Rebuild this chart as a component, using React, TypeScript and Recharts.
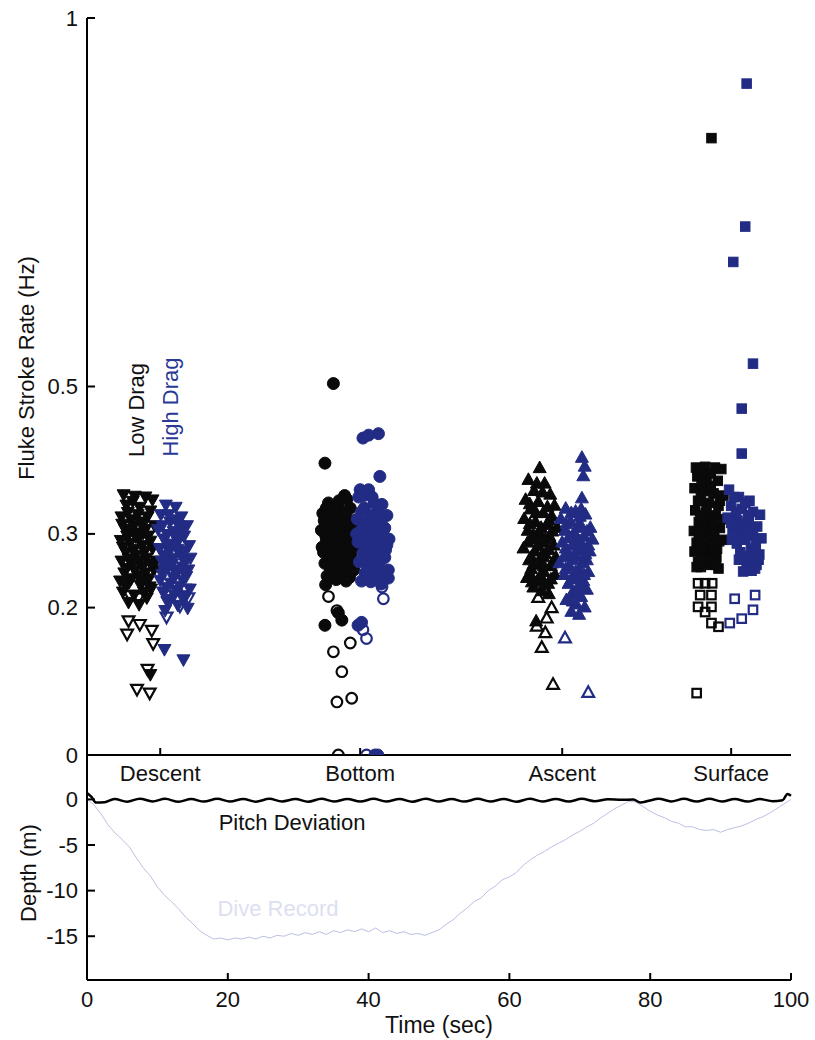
import React from 'react';
import {
  ScatterChart,
  Scatter,
  LineChart,
  Line,
  XAxis,
  YAxis,
} from 'recharts';

const FONT = '"Liberation Sans", Arial, Helvetica, sans-serif';
const BLACK = '#0a0a0a';
const BLUE = '#222c84';

// phase categories along the top axis (time units, shared with bottom plot)
const CAT_NAMES = ['Descent', 'Bottom', 'Ascent', 'Surface'];
const CAT_POS = [10.4, 38.8, 67.5, 91.5];
const RATE_TICKS = [0, 0.2, 0.3, 0.5, 1];
const DEPTH_TICKS = [-15, -10, -5, 0];
const TIME_TICKS = [0, 20, 40, 60, 80, 100];

// fluke stroke rates, [x, Hz]
const DESCENT_LOW = [
  [5.2, 0.352], [6.8, 0.35], [8.3, 0.349], [5.6, 0.338], [7.5, 0.335], [9.0, 0.33], [4.9, 0.322],
  [6.3, 0.318], [8.1, 0.315], [9.6, 0.31], [5.4, 0.305], [7.0, 0.3], [8.7, 0.296], [4.8, 0.29],
  [6.1, 0.286], [7.8, 0.283], [9.3, 0.279], [5.5, 0.274], [6.9, 0.27], [8.4, 0.266], [4.9, 0.262],
  [6.4, 0.258], [7.9, 0.254], [9.5, 0.25], [5.3, 0.246], [7.2, 0.242], [8.8, 0.238], [6.0, 0.233],
  [7.6, 0.229], [9.1, 0.224], [5.1, 0.22], [6.7, 0.216], [8.5, 0.212], [5.9, 0.206], [7.4, 0.203],
  [8.9, 0.227], [9.8, 0.262], [4.7, 0.235], [8.0, 0.3], [6.0, 0.3], [7.3, 0.262], [6.5, 0.343],
  [9.3, 0.345], [9.0, 0.108], [5.8, 0.328], [7.2, 0.325], [8.6, 0.322], [5.0, 0.312], [6.6, 0.309],
  [8.3, 0.305], [5.7, 0.296], [7.4, 0.293], [9.0, 0.289], [5.1, 0.281], [6.7, 0.278], [8.2, 0.275],
  [5.9, 0.265], [7.5, 0.262], [9.1, 0.258], [5.6, 0.252], [6.8, 0.249], [8.3, 0.246], [6.3, 0.238],
  [7.8, 0.236], [5.5, 0.228], [8.1, 0.22], [6.9, 0.295], [7.7, 0.312],
];
const DESCENT_LOW_OPEN = [
  [6.1, 0.215], [7.3, 0.212], [5.9, 0.181], [7.5, 0.176], [9.2, 0.168], [5.7, 0.163], [9.4, 0.15],
  [8.6, 0.115], [7.1, 0.088], [8.9, 0.083],
];
const DESCENT_HIGH = [
  [11.2, 0.338], [12.6, 0.335], [10.5, 0.325], [13.4, 0.322], [11.8, 0.315], [14.2, 0.31],
  [10.1, 0.305], [12.3, 0.302], [13.8, 0.296], [10.9, 0.292], [12.9, 0.288], [14.5, 0.283],
  [10.3, 0.279], [11.7, 0.275], [13.3, 0.271], [14.7, 0.266], [10.6, 0.262], [12.1, 0.258],
  [13.6, 0.254], [11.0, 0.249], [12.7, 0.245], [14.1, 0.241], [10.4, 0.236], [11.9, 0.232],
  [13.2, 0.228], [14.6, 0.224], [10.8, 0.22], [12.4, 0.216], [13.9, 0.212], [11.4, 0.207],
  [12.9, 0.202], [14.3, 0.198], [11.1, 0.195], [12.0, 0.285], [11.3, 0.262], [13.0, 0.31],
  [11.0, 0.142], [13.7, 0.128], [11.6, 0.325], [12.9, 0.318], [10.7, 0.31], [13.5, 0.305],
  [11.4, 0.298], [12.6, 0.294], [14.0, 0.276], [11.5, 0.284], [12.8, 0.278], [10.9, 0.27],
  [12.3, 0.266], [13.8, 0.262], [11.6, 0.254], [13.0, 0.25], [14.4, 0.25], [10.7, 0.244],
  [12.2, 0.24], [13.6, 0.236], [11.3, 0.226], [12.7, 0.222], [13.4, 0.215], [11.9, 0.21],
];
const DESCENT_HIGH_OPEN = [[11.3, 0.186], [13.9, 0.224], [13.2, 0.201], [14.4, 0.212]];

const BOTTOM_LOW = [
  [35.0, 0.504], [33.8, 0.396], [36.6, 0.352], [34.3, 0.342], [35.6, 0.338], [37.4, 0.335],
  [33.5, 0.328], [35.0, 0.325], [36.5, 0.322], [37.9, 0.318], [34.2, 0.315], [35.8, 0.312],
  [37.1, 0.308], [33.3, 0.305], [34.8, 0.302], [36.3, 0.3], [37.7, 0.297], [34.0, 0.293],
  [35.4, 0.29], [36.9, 0.287], [38.2, 0.284], [33.4, 0.282], [34.9, 0.279], [36.2, 0.276],
  [37.5, 0.273], [34.4, 0.27], [35.8, 0.267], [37.1, 0.264], [33.8, 0.26], [35.2, 0.257],
  [36.6, 0.254], [37.9, 0.251], [34.6, 0.248], [36.0, 0.244], [37.3, 0.241], [35.4, 0.238],
  [36.8, 0.236], [35.9, 0.296], [35.2, 0.31], [36.2, 0.285], [34.4, 0.326], [33.9, 0.231],
  [33.8, 0.176], [36.2, 0.183], [35.7, 0.193], [34.0, 0.335], [35.3, 0.333], [36.8, 0.33],
  [33.7, 0.318], [35.1, 0.317], [36.5, 0.313], [37.6, 0.31], [33.9, 0.298], [35.6, 0.3],
  [37.0, 0.296], [34.5, 0.288], [36.0, 0.29], [37.4, 0.285], [33.6, 0.275], [35.1, 0.272],
  [36.7, 0.27], [37.8, 0.262], [34.3, 0.258], [35.7, 0.255], [37.2, 0.25], [34.1, 0.243],
  [35.5, 0.246], [36.4, 0.265], [34.6, 0.308], [36.9, 0.347], [35.8, 0.345],
];
const BOTTOM_LOW_OPEN = [
  [34.3, 0.215], [35.5, 0.196], [37.4, 0.152], [35.0, 0.14], [36.2, 0.113], [35.5, 0.072],
  [37.6, 0.077], [35.7, 0.0],
];
const BOTTOM_HIGH = [
  [39.2, 0.43], [40.0, 0.434], [41.4, 0.436], [41.6, 0.378], [38.8, 0.36], [40.0, 0.36],
  [40.8, 0.342], [38.6, 0.35], [39.4, 0.335], [41.3, 0.33], [42.6, 0.325], [38.4, 0.32],
  [39.9, 0.316], [41.0, 0.312], [42.3, 0.308], [38.9, 0.304], [40.3, 0.3], [41.7, 0.297],
  [42.9, 0.293], [38.5, 0.289], [39.8, 0.285], [41.1, 0.282], [42.4, 0.278], [39.2, 0.274],
  [40.6, 0.27], [41.9, 0.266], [38.7, 0.262], [40.1, 0.258], [41.5, 0.255], [42.8, 0.251],
  [39.5, 0.247], [40.9, 0.243], [42.2, 0.239], [39.0, 0.236], [41.8, 0.232], [42.0, 0.242],
  [40.4, 0.29], [38.3, 0.3], [38.5, 0.176], [39.0, 0.18], [40.9, 0.0], [41.3, 0.0],
  [39.3, 0.352], [40.5, 0.35], [41.9, 0.34], [39.0, 0.33], [40.5, 0.325], [41.8, 0.32],
  [39.3, 0.31], [40.8, 0.305], [42.0, 0.302], [39.4, 0.295], [41.2, 0.29], [42.6, 0.285],
  [39.6, 0.278], [41.0, 0.272], [42.3, 0.268], [39.8, 0.262], [41.2, 0.26], [39.9, 0.25],
  [41.2, 0.245], [40.3, 0.235], [42.8, 0.24],
];
const BOTTOM_HIGH_OPEN = [[41.9, 0.228], [42.1, 0.212], [39.2, 0.17], [39.7, 0.158], [39.7, 0.0]];

const ASCENT_LOW = [
  [64.3, 0.391], [62.7, 0.375], [65.0, 0.37], [63.5, 0.36], [65.8, 0.355], [62.3, 0.348],
  [64.1, 0.345], [66.4, 0.34], [63.0, 0.335], [64.8, 0.33], [66.0, 0.326], [62.1, 0.322],
  [63.7, 0.318], [65.3, 0.314], [66.8, 0.31], [62.6, 0.306], [64.2, 0.302], [65.7, 0.298],
  [63.2, 0.294], [64.7, 0.29], [66.3, 0.286], [62.0, 0.282], [63.6, 0.278], [65.1, 0.274],
  [66.6, 0.27], [62.8, 0.266], [64.4, 0.262], [65.9, 0.258], [63.1, 0.254], [64.9, 0.25],
  [66.5, 0.246], [62.5, 0.242], [64.0, 0.238], [65.5, 0.234], [63.4, 0.229], [64.6, 0.224],
  [65.6, 0.22], [63.8, 0.183], [64.4, 0.3], [64.8, 0.27], [63.9, 0.37], [64.7, 0.358],
  [62.9, 0.342], [65.4, 0.338], [63.8, 0.33], [65.7, 0.32], [62.9, 0.315], [64.5, 0.31],
  [66.1, 0.305], [63.4, 0.3], [65.1, 0.295], [62.6, 0.29], [64.1, 0.285], [65.6, 0.28],
  [63.1, 0.27], [64.6, 0.272], [66.1, 0.262], [63.4, 0.26], [64.9, 0.258], [62.9, 0.248],
  [64.4, 0.245], [65.9, 0.24], [63.2, 0.236], [64.9, 0.232],
];
const ASCENT_LOW_OPEN = [
  [64.1, 0.215], [66.0, 0.201], [65.3, 0.187], [63.9, 0.176], [65.1, 0.167], [64.6, 0.147],
  [66.2, 0.097],
];
const ASCENT_HIGH = [
  [70.3, 0.405], [70.7, 0.393], [70.5, 0.38], [70.3, 0.35], [68.0, 0.336], [69.4, 0.332],
  [70.8, 0.328], [67.3, 0.322], [68.7, 0.318], [70.1, 0.314], [71.5, 0.31], [67.9, 0.306],
  [69.3, 0.302], [70.6, 0.298], [71.8, 0.294], [67.5, 0.29], [68.9, 0.286], [70.3, 0.282],
  [71.4, 0.278], [68.2, 0.274], [69.6, 0.27], [71.0, 0.266], [67.1, 0.262], [68.5, 0.258],
  [69.9, 0.254], [71.2, 0.25], [67.8, 0.246], [69.2, 0.242], [70.5, 0.238], [68.4, 0.234],
  [69.8, 0.23], [71.0, 0.226], [68.9, 0.221], [70.2, 0.216], [68.1, 0.212], [69.5, 0.206],
  [70.7, 0.202], [68.8, 0.196], [69.9, 0.192], [69.0, 0.296], [70.0, 0.325], [68.8, 0.33],
  [70.2, 0.335], [68.1, 0.315], [69.6, 0.31], [71.0, 0.305], [68.5, 0.298], [70.0, 0.292],
  [71.2, 0.286], [68.0, 0.282], [69.6, 0.28], [70.8, 0.274], [67.7, 0.27], [69.0, 0.266],
  [70.4, 0.262], [68.0, 0.254], [69.4, 0.25], [70.6, 0.246], [68.8, 0.24], [70.0, 0.244],
  [69.3, 0.222], [70.4, 0.228], [69.0, 0.21],
];
const ASCENT_HIGH_OPEN = [[67.9, 0.16], [71.2, 0.086]];

const SURFACE_LOW = [
  [88.7, 0.837], [86.5, 0.39], [87.8, 0.391], [89.2, 0.39], [90.1, 0.388], [86.7, 0.378],
  [88.0, 0.375], [89.6, 0.372], [86.3, 0.362], [87.6, 0.358], [89.0, 0.355], [90.4, 0.352],
  [86.8, 0.345], [88.3, 0.342], [89.7, 0.338], [86.4, 0.332], [87.9, 0.328], [89.3, 0.325],
  [90.6, 0.32], [86.9, 0.316], [88.5, 0.312], [89.9, 0.308], [86.2, 0.304], [87.7, 0.3],
  [89.1, 0.296], [90.5, 0.292], [86.6, 0.288], [88.1, 0.284], [89.5, 0.28], [86.3, 0.276],
  [87.9, 0.272], [89.4, 0.268], [86.8, 0.262], [88.4, 0.258], [89.7, 0.253], [87.2, 0.255],
  [88.8, 0.3], [88.0, 0.32], [87.2, 0.385], [88.6, 0.382], [87.3, 0.368], [88.6, 0.365],
  [87.2, 0.35], [88.0, 0.338], [89.9, 0.345], [87.1, 0.325], [88.8, 0.322], [87.5, 0.31],
  [89.2, 0.315], [86.9, 0.295], [88.4, 0.292], [89.8, 0.29], [87.4, 0.28], [88.9, 0.276],
  [87.2, 0.268], [88.6, 0.265], [89.3, 0.258], [86.6, 0.255],
];
const SURFACE_LOW_OPEN = [
  [86.8, 0.233], [87.8, 0.233], [88.8, 0.233], [87.1, 0.217], [88.7, 0.217], [86.8, 0.201],
  [88.7, 0.201], [87.8, 0.194], [88.7, 0.179], [89.7, 0.174], [86.6, 0.084],
];
const SURFACE_HIGH = [
  [93.7, 0.911], [93.5, 0.717], [91.8, 0.669], [94.6, 0.531], [93.0, 0.47], [93.0, 0.409],
  [91.2, 0.36], [92.6, 0.35], [94.1, 0.345], [91.5, 0.338], [93.0, 0.334], [94.6, 0.33],
  [95.6, 0.326], [91.0, 0.322], [92.4, 0.318], [93.8, 0.314], [95.2, 0.31], [91.7, 0.306],
  [93.1, 0.302], [94.5, 0.298], [95.8, 0.294], [92.3, 0.287], [94.3, 0.28], [95.5, 0.272],
  [91.6, 0.292], [93.7, 0.262], [95.1, 0.258], [93.2, 0.249], [94.9, 0.253], [92.2, 0.31],
  [94.0, 0.32], [91.9, 0.35], [93.5, 0.342], [92.2, 0.33], [93.9, 0.325], [91.5, 0.315],
  [93.0, 0.31], [94.6, 0.306], [92.0, 0.298], [93.5, 0.292], [95.0, 0.285], [92.8, 0.275],
  [94.0, 0.27], [95.4, 0.265], [92.6, 0.265], [94.4, 0.25], [93.8, 0.3],
];
const SURFACE_HIGH_OPEN = [[92.0, 0.212], [94.9, 0.217], [94.6, 0.197], [93.0, 0.185], [91.3, 0.179]];

// dive record (depth in m) and pitch deviation trace
const DIVE_TIME = [
  0, 1, 2, 3, 4, 5, 6, 7, 8, 9, 10, 11, 12, 13, 14, 15, 16, 17, 18, 19, 20, 21, 22, 23, 24, 25,
  26, 27, 28, 29, 30, 31, 32, 33, 34, 35, 36, 37, 38, 39, 40, 41, 42, 43, 44, 45, 46, 47, 48, 49,
  50, 51, 52, 53, 54, 55, 56, 57, 58, 59, 60, 61, 62, 63, 64, 65, 66, 67, 68, 69, 70, 71, 72, 73,
  74, 75, 76, 77, 78, 79, 80, 81, 82, 83, 84, 85, 86, 87, 88, 89, 90, 91, 92, 93, 94, 95, 96, 97,
  98, 99, 100,
];
const DIVE_DEPTH = [
  0, -0.6, -1.6, -2.8, -3.7, -4.4, -5.2, -6.4, -7.5, -8.4, -9.6, -10.5, -11.2, -12.0, -12.9,
  -13.6, -14.4, -14.9, -15.3, -15.2, -15.4, -15.2, -15.3, -15.1, -15.3, -15.0, -15.2, -14.9,
  -15.0, -14.7, -14.9, -14.6, -14.8, -14.5, -14.8, -14.4, -14.6, -14.3, -14.5, -14.2, -14.5,
  -14.1, -14.6, -14.4, -14.7, -14.5, -14.8, -14.7, -14.9, -14.6, -14.3, -13.7, -13.2, -12.5,
  -11.9, -11.2, -10.8, -10.0, -9.5, -8.8, -8.5, -8.0, -7.2, -6.6, -6.1, -5.7, -5.2, -4.8, -4.4,
  -3.9, -3.5, -3.0, -2.6, -2.0, -1.5, -1.0, -0.6, -0.2, -0.3, -0.8, -1.3, -1.7, -2.0, -2.4,
  -2.6, -3.0, -3.0, -3.3, -3.4, -3.3, -3.6, -3.3, -3.1, -2.9, -2.6, -2.2, -1.9, -1.5, -1.0,
  -0.5, 0,
];
const PITCH_TIME = [
  0, 0.6, 1.3, 2.5, 3.9, 5.7, 7.5, 9.3, 11.1, 13.0, 14.8, 16.6, 18.5, 20.3, 22.2, 24.0, 25.9,
  27.7, 29.6, 31.4, 33.3, 35.1, 37.0, 38.8, 40.7, 42.5, 44.4, 46.2, 48.1, 49.9, 51.8, 53.6, 55.5,
  57.3, 59.2, 61.0, 62.9, 64.7, 66.6, 68.4, 70.3, 72.1, 74.0, 76.0, 77.6, 78.6, 79.8, 81.2, 83.0,
  84.8, 86.6, 88.4, 90.2, 92.0, 93.8, 95.6, 97.4, 98.8, 99.5, 100,
];
const PITCH_DEV = [
  0.7, 0.3, -0.35, -0.3, 0.05, -0.25, 0.08, -0.22, 0.06, -0.26, 0.04, -0.24, 0.07, -0.23, 0.05,
  -0.25, 0.06, -0.22, 0.04, -0.26, 0.07, -0.23, 0.05, -0.24, 0.06, -0.22, 0.05, -0.25, 0.07,
  -0.23, 0.04, -0.24, 0.06, -0.22, 0.05, -0.25, 0.07, -0.23, 0.05, -0.24, 0.06, -0.2, 0.02,
  -0.05, 0.0, -0.35, -0.15, 0.08, -0.22, 0.07, -0.24, 0.06, -0.22, 0.05, -0.24, 0.04, -0.2,
  -0.1, 0.6, 0.4,
];

const toPts = (arr: number[][]) => arr.map(([x, y]) => ({ x, y }));
const diveData = DIVE_TIME.map((t, i) => ({ t, v: DIVE_DEPTH[i] }));
const pitchData = PITCH_TIME.map((t, i) => ({ t, v: PITCH_DEV[i] }));

type Kind = 'down' | 'circle' | 'up' | 'square';

const marker = (kind: Kind, color: string, open: boolean) => (props: any) => {
  const { cx, cy } = props;
  const fill = open ? 'none' : color;
  const sw = open ? 2.2 : 1;
  if (kind === 'circle') {
    return <circle cx={cx} cy={cy} r={open ? 5.3 : 6} fill={fill} stroke={color} strokeWidth={sw} />;
  }
  if (kind === 'square') {
    const s = open ? 8.5 : 9.5;
    return <rect x={cx - s / 2} y={cy - s / 2} width={s} height={s} fill={fill} stroke={color} strokeWidth={sw} />;
  }
  const h = open ? 5.3 : 5.8;
  const w = open ? 5.9 : 6.5;
  const pts =
    kind === 'down'
      ? `${cx - w},${cy - h} ${cx + w},${cy - h} ${cx},${cy + h}`
      : `${cx - w},${cy + h} ${cx + w},${cy + h} ${cx},${cy - h}`;
  return <polygon points={pts} fill={fill} stroke={color} strokeWidth={sw} strokeLinejoin="miter" />;
};

const SERIES: { data: number[][]; kind: Kind; color: string; open: boolean }[] = [
  { data: DESCENT_LOW, kind: 'down', color: BLACK, open: false },
  { data: DESCENT_LOW_OPEN, kind: 'down', color: BLACK, open: true },
  { data: DESCENT_HIGH, kind: 'down', color: BLUE, open: false },
  { data: DESCENT_HIGH_OPEN, kind: 'down', color: BLUE, open: true },
  { data: BOTTOM_LOW, kind: 'circle', color: BLACK, open: false },
  { data: BOTTOM_LOW_OPEN, kind: 'circle', color: BLACK, open: true },
  { data: BOTTOM_HIGH, kind: 'circle', color: BLUE, open: false },
  { data: BOTTOM_HIGH_OPEN, kind: 'circle', color: BLUE, open: true },
  { data: ASCENT_LOW, kind: 'up', color: BLACK, open: false },
  { data: ASCENT_LOW_OPEN, kind: 'up', color: BLACK, open: true },
  { data: ASCENT_HIGH, kind: 'up', color: BLUE, open: false },
  { data: ASCENT_HIGH_OPEN, kind: 'up', color: BLUE, open: true },
  { data: SURFACE_LOW, kind: 'square', color: BLACK, open: false },
  { data: SURFACE_LOW_OPEN, kind: 'square', color: BLACK, open: true },
  { data: SURFACE_HIGH, kind: 'square', color: BLUE, open: false },
  { data: SURFACE_HIGH_OPEN, kind: 'square', color: BLUE, open: true },
];

const LeftTick = ({ x, y, payload }: any) => (
  <g>
    <line x1={x} x2={x + 8} y1={y} y2={y} stroke="#000" strokeWidth={2} />
    <text x={x - 9} y={y} dy={7.5} textAnchor="end" fontSize={22} fontFamily={FONT} fill="#111">
      {payload.value}
    </text>
  </g>
);

const CatTick = ({ x, y, payload }: any) => {
  const i = CAT_POS.indexOf(payload.value);
  return (
    <g>
      <line x1={x} x2={x} y1={y} y2={y - 7} stroke="#000" strokeWidth={2} />
      <text x={x} y={y + 26} textAnchor="middle" fontSize={22} fontFamily={FONT} fill="#111">
        {CAT_NAMES[i]}
      </text>
    </g>
  );
};

const TimeTick = ({ x, y, payload }: any) => (
  <g>
    <line x1={x} x2={x} y1={y} y2={y - 7} stroke="#000" strokeWidth={2} />
    <text x={x} y={y + 27} textAnchor="middle" fontSize={22} fontFamily={FONT} fill="#111">
      {payload.value}
    </text>
  </g>
);

const axisLine = { stroke: '#000', strokeWidth: 2 };

export default function App() {
  return (
    <div style={{ position: 'absolute', left: 0, top: 0, width: 815, height: 1040, background: '#fff' }}>
      <div style={{ position: 'absolute', left: 0, top: 0 }}>
        <ScatterChart width={815} height={800} margin={{ top: 18, right: 24, bottom: 0, left: 0 }}>
          <XAxis
            type="number"
            dataKey="x"
            domain={[0, 100]}
            ticks={CAT_POS}
            interval={0}
            height={45}
            tickSize={0}
            tickMargin={0}
            tickLine={false}
            axisLine={axisLine}
            tick={<CatTick />}
            allowDataOverflow
          />
          <YAxis
            type="number"
            dataKey="y"
            domain={[0, 1]}
            ticks={RATE_TICKS}
            interval={0}
            width={87}
            tickSize={0}
            tickMargin={0}
            tickLine={false}
            axisLine={axisLine}
            tick={<LeftTick />}
            allowDataOverflow
          />
          {SERIES.map((s, i) => (
            <Scatter
              key={i}
              data={toPts(s.data)}
              shape={marker(s.kind, s.color, s.open)}
              isAnimationActive={false}
            />
          ))}
        </ScatterChart>
      </div>

      <div style={{ position: 'absolute', left: 0, top: 0 }}>
        <LineChart width={815} height={1040} margin={{ top: 755, right: 24, bottom: 0, left: 0 }}>
          <XAxis
            type="number"
            dataKey="t"
            domain={[0, 100]}
            ticks={TIME_TICKS}
            interval={0}
            height={60}
            tickSize={0}
            tickMargin={0}
            tickLine={false}
            axisLine={axisLine}
            tick={<TimeTick />}
            allowDuplicatedCategory={false}
          />
          <YAxis
            type="number"
            domain={[-19.8, 4.87]}
            ticks={DEPTH_TICKS}
            interval={0}
            width={87}
            tickSize={0}
            tickMargin={0}
            tickLine={false}
            axisLine={axisLine}
            tick={<LeftTick />}
            allowDataOverflow
          />
          <Line
            data={diveData}
            dataKey="v"
            type="linear"
            stroke="#bcc0e2"
            strokeWidth={1}
            dot={false}
            isAnimationActive={false}
          />
          <Line
            data={pitchData}
            dataKey="v"
            type="monotone"
            stroke="#000"
            strokeWidth={2.5}
            dot={false}
            isAnimationActive={false}
          />
        </LineChart>
      </div>

      <svg
        width={815}
        height={1040}
        style={{ position: 'absolute', left: 0, top: 0, pointerEvents: 'none' }}
        fontFamily={FONT}
        fontSize={22}
      >
        <text transform="translate(34,368) rotate(-90)" textAnchor="middle" fill="#111">
          Fluke Stroke Rate (Hz)
        </text>
        <text transform="translate(36,873) rotate(-90)" textAnchor="middle" fill="#111">
          Depth (m)
        </text>
        <text transform="translate(144,410) rotate(-90)" textAnchor="middle" fill="#111">
          Low Drag
        </text>
        <text transform="translate(178,407) rotate(-90)" textAnchor="middle" fill="#2a3896">
          High Drag
        </text>
        <text x={292} y={830} textAnchor="middle" fill="#111">
          Pitch Deviation
        </text>
        <text x={278} y={916} textAnchor="middle" fill="#dcdff1">
          Dive Record
        </text>
        <text x={439} y={1033} textAnchor="middle" fontSize={23} fill="#111">
          Time (sec)
        </text>
      </svg>
    </div>
  );
}
